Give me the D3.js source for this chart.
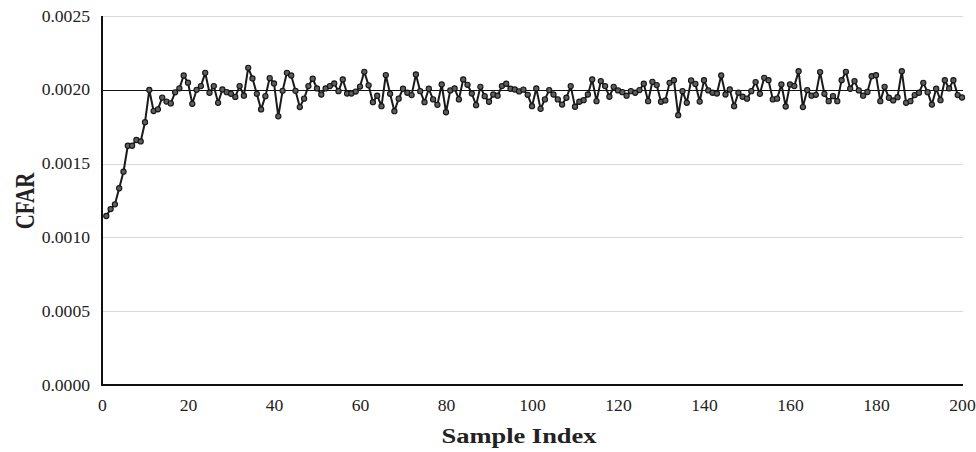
<!DOCTYPE html>
<html>
<head>
<meta charset="utf-8">
<script src="https://cdn.jsdelivr.net/npm/d3@7"></script>
<style>
  html, body { margin: 0; padding: 0; background: #fff; }
  svg { display: block; }
</style>
</head>
<body>
<svg id="chart" width="976" height="452"></svg>
<script>
// CFAR value per sample (×1e-3)
const cfarMilli = [
  1.145, 1.192, 1.224, 1.333, 1.445, 1.621, 1.621, 1.660, 1.650, 1.780,
  1.999, 1.856, 1.868, 1.947, 1.920, 1.908, 1.983, 2.010, 2.097, 2.048,
  1.905, 2.000, 2.025, 2.115, 1.980, 2.025, 1.912, 2.002, 1.984, 1.973,
  1.952, 2.025, 1.960, 2.149, 2.077, 1.973, 1.867, 1.957, 2.079, 2.043,
  1.820, 1.993, 2.115, 2.097, 1.993, 1.883, 1.940, 2.025, 2.075, 2.009,
  1.968, 2.009, 2.025, 2.043, 1.991, 2.070, 1.975, 1.975, 1.988, 2.022,
  2.122, 2.030, 1.916, 1.960, 1.889, 2.100, 1.973, 1.855, 1.940, 2.007,
  1.980, 1.964, 2.104, 1.991, 1.916, 2.007, 1.935, 1.898, 2.036, 1.848,
  1.996, 2.009, 1.935, 2.070, 2.034, 1.975, 1.896, 2.020, 1.957, 1.919,
  1.968, 1.960, 2.025, 2.041, 2.007, 2.002, 1.989, 2.001, 1.966, 1.889,
  2.009, 1.871, 1.935, 1.998, 1.968, 1.935, 1.900, 1.946, 2.025, 1.885,
  1.919, 1.930, 1.968, 2.070, 1.923, 2.059, 2.025, 1.953, 2.020, 1.996,
  1.984, 1.960, 1.991, 1.980, 1.998, 2.041, 1.923, 2.054, 2.032, 1.919,
  1.928, 2.047, 2.065, 1.828, 1.991, 1.912, 2.063, 2.040, 1.920, 2.065,
  1.996, 1.980, 1.975, 2.097, 1.968, 2.002, 1.889, 1.980, 1.953, 1.940,
  1.991, 2.052, 1.973, 2.081, 2.065, 1.935, 1.940, 2.036, 1.887, 2.036,
  2.025, 2.126, 1.883, 1.998, 1.960, 1.966, 2.120, 1.973, 1.923, 1.957,
  1.923, 2.065, 2.122, 2.007, 2.059, 1.996, 1.960, 1.985, 2.092, 2.099,
  1.923, 2.020, 1.946, 1.928, 1.950, 2.126, 1.912, 1.923, 1.964, 1.980,
  2.047, 1.984, 1.900, 2.007, 1.930, 2.065, 2.009, 2.065, 1.964, 1.948
];
const sampleIndex = cfarMilli.map((_, i) => i + 1);
const cfarValues = cfarMilli.map(v => v / 1000);

const xTicks = [0, 20, 40, 60, 80, 100, 120, 140, 160, 180, 200];
const yTicks = [0, 0.0005, 0.0010, 0.0015, 0.0020, 0.0025];
const referenceLevel = 0.0020;

const xTitle = "Sample Index";
const yTitle = "CFAR";

const serif = "'Liberation Serif', 'Times New Roman', serif";
const svg = d3.select("#chart");
const plotLeft = 102, plotRight = 962, plotTop = 16, plotBottom = 385;
const stretch = 1.1;   // labels are set slightly wide

const x = d3.scaleLinear().domain([0, 200]).range([plotLeft, plotRight]);
const y = d3.scaleLinear().domain([0, 0.0025]).range([plotBottom, plotTop]);

// horizontal gridlines
svg.append("g")
  .selectAll("line")
  .data(yTicks.filter(t => t > 0 && t !== referenceLevel))
  .join("line")
  .attr("x1", plotLeft).attr("x2", plotRight + 1)
  .attr("y1", d => Math.round(y(d)) + 0.5).attr("y2", d => Math.round(y(d)) + 0.5)
  .attr("stroke", "#d9d9d9").attr("stroke-width", 1);

// reference level
svg.append("line")
  .attr("x1", plotLeft).attr("x2", plotRight + 1)
  .attr("y1", Math.round(y(referenceLevel)) + 0.5).attr("y2", Math.round(y(referenceLevel)) + 0.5)
  .attr("stroke", "#111").attr("stroke-width", 1.2);

// y axis tick labels
const yAxis = d3.axisLeft(y).tickValues(yTicks).tickFormat(d3.format(".4f")).tickSize(0).tickPadding(0);
svg.append("g")
  .attr("transform", `translate(${plotLeft - 12},0)`)
  .call(yAxis)
  .attr("font-family", serif).attr("font-size", 16)
  .call(g => g.select(".domain").remove())
  .call(g => g.selectAll("text")
    .attr("x", 0)
    .attr("transform", `scale(${stretch},1)`)
    .attr("fill", "#222"));

// x axis tick labels
const xAxis = d3.axisBottom(x).tickValues(xTicks).tickFormat(d3.format("d")).tickSize(0).tickPadding(0);
svg.append("g")
  .attr("transform", `translate(0,${plotBottom + 15})`)
  .call(xAxis)
  .attr("font-family", serif).attr("font-size", 16)
  .call(g => g.select(".domain").remove())
  .call(g => g.selectAll("text")
    .attr("y", 0)
    .attr("transform", `scale(${stretch},1)`)
    .attr("fill", "#222"));

// axis lines
svg.append("path")
  .attr("d", `M${plotLeft},${plotTop}V${plotBottom}H${plotRight + 1}`)
  .attr("fill", "none").attr("stroke", "#111").attr("stroke-width", 2);

// series line
const pts = sampleIndex.map((s, i) => [s, cfarValues[i]]);
svg.append("path")
  .datum(pts)
  .attr("fill", "none")
  .attr("stroke", "#1a1a1a")
  .attr("stroke-width", 2)
  .attr("stroke-linejoin", "round")
  .attr("d", d3.line().x(d => x(d[0])).y(d => y(d[1])));

// markers
svg.append("g")
  .selectAll("circle")
  .data(pts)
  .join("circle")
  .attr("cx", d => x(d[0]))
  .attr("cy", d => y(d[1]))
  .attr("r", 2.6)
  .attr("fill", "#5e5e5e")
  .attr("stroke", "#151515")
  .attr("stroke-width", 1.1);

// axis titles
svg.append("text")
  .attr("transform", "translate(519,443) scale(1.26,1)")
  .attr("text-anchor", "middle")
  .attr("font-family", serif)
  .attr("font-weight", "bold").attr("font-size", 21)
  .attr("fill", "#222")
  .text(xTitle);

svg.append("text")
  .attr("transform", "translate(34,201) rotate(-90) scale(1,1.26)")
  .attr("text-anchor", "middle")
  .attr("font-family", serif)
  .attr("font-weight", "bold").attr("font-size", 21)
  .attr("fill", "#222")
  .text(yTitle);
</script>
</body>
</html>
